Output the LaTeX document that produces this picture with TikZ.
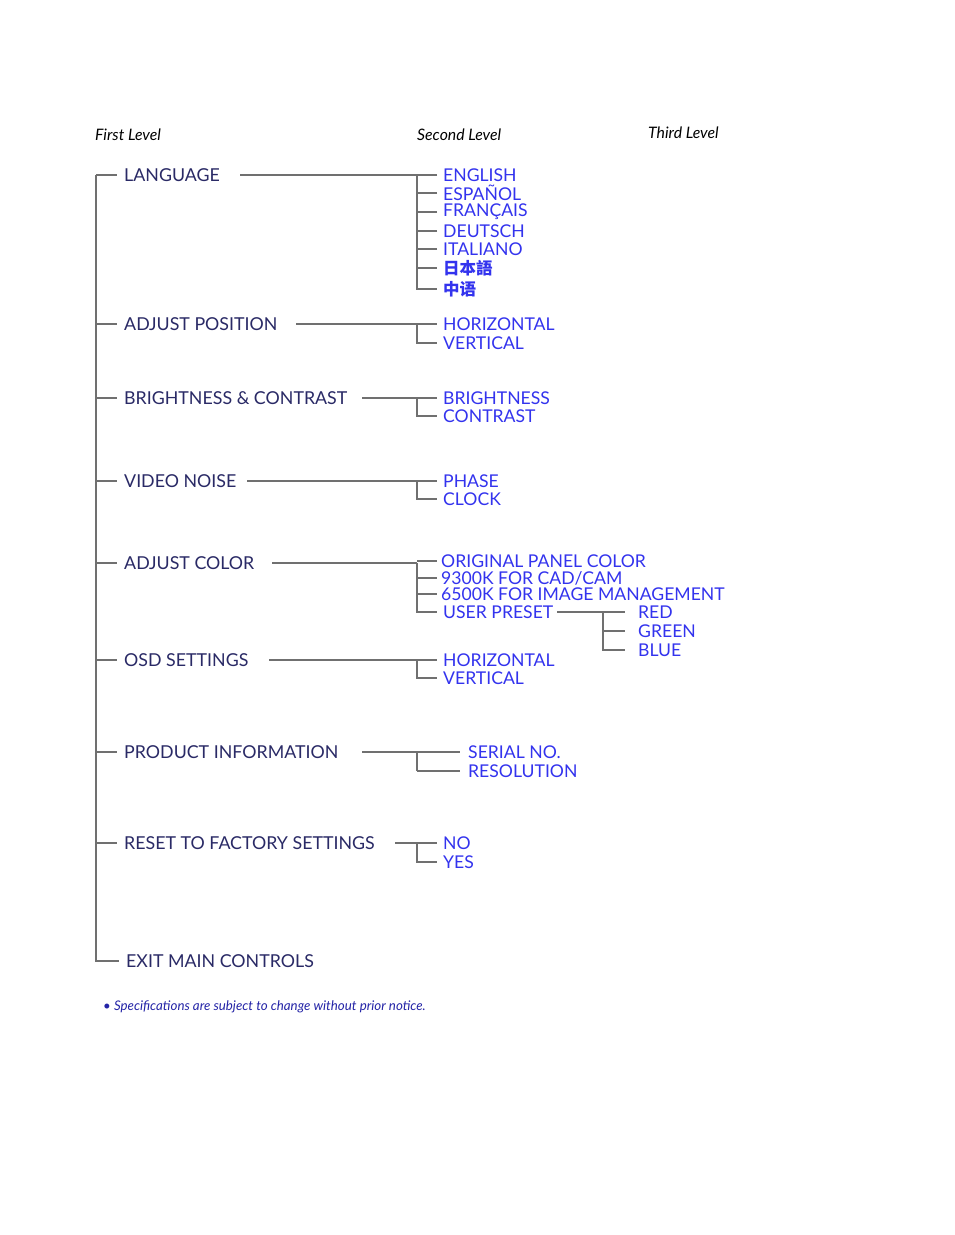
\documentclass[tikz,border=0pt]{standalone}
\usepackage{fontspec}
\setmainfont{Lato}
\newfontfamily\cjk{Noto Sans CJK SC}
\definecolor{lvlone}{HTML}{2A2A66}
\definecolor{lvltwo}{HTML}{3333EE}
\definecolor{ln}{HTML}{707070}
\begin{document}
\begin{tikzpicture}[x=1pt,y=-1pt,
  one/.style={anchor=west,inner sep=0,text=lvlone,font=\fontsize{17.8}{20}\selectfont},
  two/.style={anchor=west,inner sep=0,text=lvltwo,font=\fontsize{17.6}{20}\selectfont},
  hdr/.style={anchor=west,inner sep=0,text=black,font=\fontsize{15.8}{18}\selectfont\itshape},
  conn/.style={draw=ln,line width=1.3pt}]
\useasboundingbox[fill=white] (0,0) rectangle (954,1235);
\node[hdr] (h1) at (95,135) {First Level};
\node[hdr] (h2) at (417,135) {Second Level};
\node[hdr] (h3) at (648,133) {Third Level};
% trunk
\coordinate (top) at (96,175);
\coordinate (bot) at (96,961);
\draw[conn] (top) -- (bot) -- (119,961);
\foreach \n/\y/\t/\x/\e in {a/175/LANGUAGE/240/417,b/324/ADJUST POSITION/296/417,c/398/BRIGHTNESS \& CONTRAST/362/417,d/481/VIDEO NOISE/247/417,e/563/ADJUST COLOR/272/417,f/660/OSD SETTINGS/269/417,g/752/PRODUCT INFORMATION/362/460,h/843/RESET TO FACTORY SETTINGS/395/417}{
  \node[one] (\n) at (124,\y) {\t};
  \coordinate (\n s) at (96,\y);
  \coordinate (\n j) at (\e,\y);
  \draw[conn] (\n s) -- ++(21,0);
  \draw[conn] (\x,\y) -- (\n j);
}
\node[one] (ex) at (126,961) {EXIT MAIN CONTROLS};
% language
\foreach \m/\y/\t in {a1/175/ENGLISH,a2/193/ESPAÑOL,a3/212/FRANÇAIS,a4/231/DEUTSCH,a5/249/ITALIANO}{
  \node[two] (\m) at (443,\y) {\t};
  \draw[conn] (\m.west) ++(-6,0) -- (417,\y);}
\node[two,font=\cjk\bfseries\fontsize{16.5}{18}\selectfont] (a6) at (443,268) {日本語};
\node[two,font=\cjk\bfseries\fontsize{16.5}{18}\selectfont] (a7) at (443,289) {中语};
\draw[conn] (aj) -- (417,289) -- ([xshift=-6]a7.west);
\draw[conn] (417,268) -- ([xshift=-6]a6.west);
% two-child groups
\foreach \p/\ya/\yb/\ta/\tb in {b/324/343/HORIZONTAL/VERTICAL,c/398/416/BRIGHTNESS/CONTRAST,d/481/499/PHASE/CLOCK,f/660/678/HORIZONTAL/VERTICAL,h/843/862/NO/YES}{
  \node[two] (\p1) at (443,\ya) {\ta};
  \node[two] (\p2) at (443,\yb) {\tb};
  \draw[conn] (\p j) -- ([xshift=-6]\p1.west);
  \draw[conn] (\p j) -- (417,\yb) -- ([xshift=-6]\p2.west);
}
% adjust color
\node[two] (e1) at (441,561) {ORIGINAL PANEL COLOR};
\node[two] (e2) at (441,578) {9300K FOR CAD/CAM};
\node[two] (e3) at (441,594) {6500K FOR IMAGE MANAGEMENT};
\node[two] (e4) at (443,612) {USER PRESET};
\draw[conn] (ej) -- (417,612) -- (437,612);
\draw[conn] (417,561) -- (437,561);
\draw[conn] (417,578) -- (437,578);
\draw[conn] (417,594) -- (437,594);
\node[two] (r) at (638,612) {RED};
\node[two] (gr) at (638,631) {GREEN};
\node[two] (bl) at (638,650) {BLUE};
\coordinate (uj) at (603,612);
\draw[conn] ([xshift=4]e4.east) -- (uj) -- (625,612);
\draw[conn] (uj) -- (603,650) -- (625,650);
\draw[conn] (603,631) -- (625,631);
% product info
\node[two] (g1) at (468,752) {SERIAL NO.};
\node[two] (g2) at (468,771) {RESOLUTION};
\draw[conn] (417,752) -- (417,771);
\draw[draw=ln,line width=2.4pt] (417,771) -- (460,771);
% footnote
\node[anchor=west,inner sep=0,text=lvltwo!70!black,font=\fontsize{13.3}{15}\selectfont\itshape] (fn) at (103,1007) {• Specifications are subject to change without prior notice.};
\end{tikzpicture}
\end{document}
